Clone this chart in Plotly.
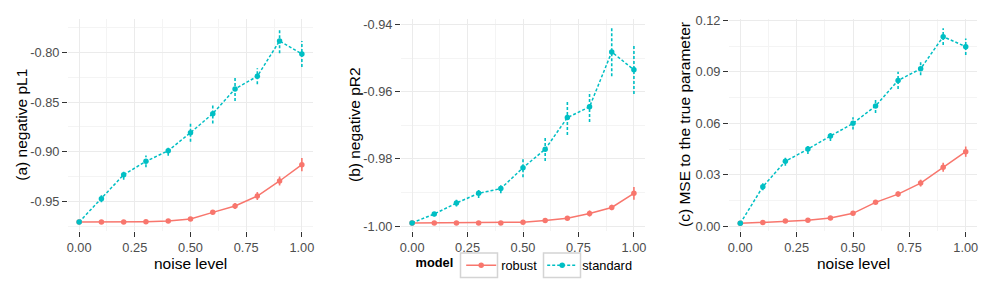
import plotly.graph_objects as go

noise = [0.0, 0.1, 0.2, 0.3, 0.4, 0.5, 0.6, 0.7, 0.8, 0.9, 1.0]

pL1_robust = [-0.9704, -0.9704, -0.9704, -0.9700, -0.9694, -0.9674, -0.9607, -0.9543, -0.9443, -0.9292, -0.9128]
pL1_robust_se = [0.0005, 0.0005, 0.0005, 0.0006, 0.0008, 0.0010, 0.0015, 0.0030, 0.0040, 0.0045, 0.0067]
pL1_standard = [-0.9704, -0.9470, -0.9229, -0.9095, -0.8988, -0.8807, -0.8616, -0.8368, -0.8241, -0.7886, -0.8017]
pL1_standard_se = [0.0005, 0.0035, 0.0050, 0.0060, 0.0050, 0.0090, 0.0100, 0.0120, 0.0080, 0.0125, 0.0130]

pR2_robust = [-0.9990, -0.9990, -0.9990, -0.9990, -0.9990, -0.9988, -0.9983, -0.9976, -0.9962, -0.9944, -0.9902]
pR2_robust_se = [0.0001, 0.0001, 0.0001, 0.0001, 0.0001, 0.0002, 0.0003, 0.0004, 0.0009, 0.0008, 0.0019]
pR2_standard = [-0.9990, -0.99634, -0.9931, -0.9902, -0.9888, -0.9826, -0.9771, -0.9677, -0.9645, -0.9482, -0.9535]
pR2_standard_se = [0.0001, 0.0007, 0.0010, 0.0014, 0.0014, 0.0028, 0.0035, 0.0052, 0.0045, 0.0072, 0.0072]

mse_robust = [0.00175, 0.0023, 0.0031, 0.0035, 0.0049, 0.0076, 0.0140, 0.0188, 0.0252, 0.0344, 0.0435]
mse_robust_se = [0.0003, 0.0003, 0.0003, 0.0004, 0.0005, 0.0006, 0.0010, 0.0015, 0.0020, 0.0026, 0.0030]
mse_standard = [0.00175, 0.0231, 0.0379, 0.0450, 0.0526, 0.0600, 0.0701, 0.0850, 0.0918, 0.1105, 0.1047]
mse_standard_se = [0.0003, 0.0020, 0.0026, 0.0029, 0.0028, 0.0035, 0.0040, 0.0050, 0.0038, 0.0049, 0.0048]

x_ticks = [0.0, 0.25, 0.5, 0.75, 1.0]
x_ticklabels = ["0.00", "0.25", "0.50", "0.75", "1.00"]
x_minor = [0.125, 0.375, 0.625, 0.875]
y1_ticks = [-0.95, -0.90, -0.85, -0.80]
y1_ticklabels = ["-0.95", "-0.90", "-0.85", "-0.80"]
y1_minor = [-0.975, -0.925, -0.875, -0.825, -0.775]
y2_ticks = [-1.00, -0.98, -0.96, -0.94]
y2_ticklabels = ["-1.00", "-0.98", "-0.96", "-0.94"]
y2_minor = [-0.99, -0.97, -0.95]
y3_ticks = [0.0, 0.03, 0.06, 0.09, 0.12]
y3_ticklabels = ["0.00", "0.03", "0.06", "0.09", "0.12"]
y3_minor = [0.015, 0.045, 0.075, 0.105]

x_title = "noise level"
y_titles = ["(a) negative pL1", "(b) negative pR2", "(c) MSE to the true parameter"]
legend_title = "model"

RED = "#F8766D"
TEAL = "#00BFC4"
W, H = 997, 282
FONT = "Liberation Sans, Arial, sans-serif"

fig = go.Figure()


def errbar_xy(xs, ys, es):
    ex, ey = [], []
    for xv, yv, ev in zip(xs, ys, es):
        ex += [xv, xv, None]
        ey += [yv - ev, yv + ev, None]
    return ex, ey


panels = [
    ("x", "y", pL1_robust, pL1_robust_se, pL1_standard, pL1_standard_se),
    ("x2", "y2", pR2_robust, pR2_robust_se, pR2_standard, pR2_standard_se),
    ("x3", "y3", mse_robust, mse_robust_se, mse_standard, mse_standard_se),
]

for i, (xa, ya, rv, rs, sv, ss) in enumerate(panels):
    for name, vals, ses, col, dash in [("robust", rv, rs, RED, "solid"),
                                       ("standard", sv, ss, TEAL, "3px,2px")]:
        ex, ey = errbar_xy(noise, vals, ses)
        fig.add_trace(go.Scatter(x=ex, y=ey, mode="lines", xaxis=xa, yaxis=ya,
                                 line=dict(color=col, width=1.6, dash=dash),
                                 showlegend=False, hoverinfo="skip"))
        fig.add_trace(go.Scatter(x=noise, y=vals, mode="lines+markers", name=name,
                                 xaxis=xa, yaxis=ya, legendgroup=name,
                                 showlegend=(i == 1),
                                 line=dict(color=col, width=1.5, dash=dash),
                                 marker=dict(color=col, size=5.5)))

# panel pixel boxes
px_boxes = [(68, 313), (401, 645), (729, 977)]
top_px, bot_px = 19, 231
ydom = [1 - bot_px / H, 1 - top_px / H]

grid = "#EBEBEB"
minor_grid = "#F4F4F4"
tickfont = dict(family=FONT, size=12.8, color="#4D4D4D")
titlefont = dict(family=FONT, size=15.5, color="#000000")

common = dict(showgrid=True, gridcolor=grid, gridwidth=1.1, zeroline=False, showline=False,
              ticks="outside", ticklen=5, tickwidth=1.3, tickcolor="#333333", tickfont=tickfont,
              automargin=False, fixedrange=True)


def xaxis_cfg(i):
    l, r = px_boxes[i]
    return dict(domain=[l / W, r / W], range=[-0.05, 1.05], tickvals=x_ticks, ticktext=x_ticklabels,
                minor=dict(tickvals=x_minor, showgrid=True, gridcolor=minor_grid, gridwidth=0.6, ticks=""),
                anchor="y" if i == 0 else "y%d" % (i + 1), **common)


def yaxis_cfg(i, rng, tv, tt, mv):
    return dict(domain=ydom, range=rng, tickvals=tv, ticktext=tt,
                minor=dict(tickvals=mv, showgrid=True, gridcolor=minor_grid, gridwidth=0.6, ticks=""),
                anchor="x" if i == 0 else "x%d" % (i + 1), **common)


annotations = []
ytitle_x = [21.7, 355, 685]
for i in range(3):
    annotations.append(dict(text=y_titles[i], x=ytitle_x[i] / W, y=1 - (top_px + bot_px) / 2 / H,
                            xref="paper", yref="paper", showarrow=False, textangle=-90,
                            xanchor="center", yanchor="middle", font=titlefont))
for i in (0, 2):
    l, r = px_boxes[i]
    annotations.append(dict(text=x_title, x=(l + r) / 2 / W, y=1 - 263 / H,
                            xref="paper", yref="paper", showarrow=False,
                            xanchor="center", yanchor="middle", font=titlefont))

# light grey key boxes behind legend symbols (ggplot legend.key look)
shapes = []
for (bx0, bx1) in [(458, 495), (541, 578)]:
    shapes.append(dict(type="rect", xref="paper", yref="paper",
                       x0=(bx0 + 2.5) / W, x1=(bx1 + 2.5) / W, y0=1 - 277.5 / H, y1=1 - 253 / H,
                       line=dict(color="#D4D4D4", width=1.5), fillcolor="rgba(0,0,0,0)", layer="below"))

fig.update_layout(
    width=W, height=H,
    margin=dict(l=0, r=0, t=0, b=0, autoexpand=False),
    paper_bgcolor="white", plot_bgcolor="white",
    font=dict(family=FONT, color="#000000"),
    xaxis=xaxis_cfg(0),
    xaxis2=xaxis_cfg(1),
    xaxis3=xaxis_cfg(2),
    yaxis=yaxis_cfg(0, [-0.9794, -0.7666], y1_ticks, y1_ticklabels, y1_minor),
    yaxis2=yaxis_cfg(1, [-1.0014, -0.9384], y2_ticks, y2_ticklabels, y2_minor),
    yaxis3=yaxis_cfg(2, [-0.0027, 0.1208], y3_ticks, y3_ticklabels, y3_minor),
    annotations=annotations,
    shapes=shapes,
    legend=dict(orientation="h", x=525.5 / W, xanchor="center", y=1 - 265.5 / H, yanchor="middle",
                title=dict(text="<b>%s</b>" % legend_title, font=dict(size=12.8, family=FONT)),
                font=dict(size=12.8, family=FONT, color="#000000"),
                bgcolor="rgba(0,0,0,0)", itemwidth=30, tracegroupgap=0),
    showlegend=True,
)

fig.write_html("out.html", config={"displayModeBar": False},
               post_script="document.body.style.margin='0';document.body.style.overflow='hidden';")
